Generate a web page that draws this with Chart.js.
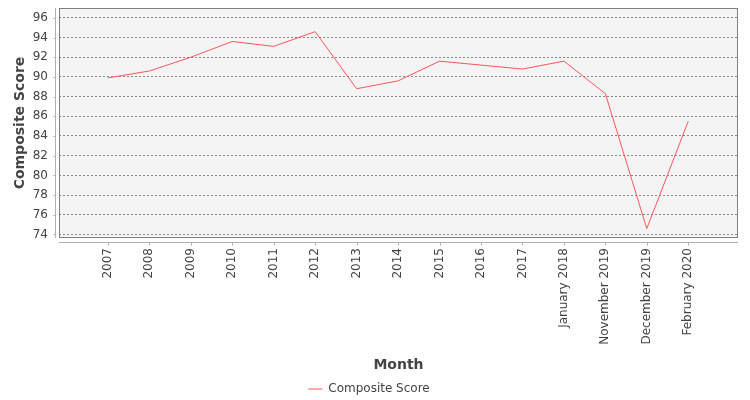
<!DOCTYPE html>
<html>
<head>
<meta charset="utf-8">
<script src="https://cdn.jsdelivr.net/npm/chart.js@4"></script>
<style>
    body { margin: 0; background: #ffffff; }
    #wrap { width: 750px; height: 400px; }
</style>
</head>
<body>
<div id="wrap"><canvas id="chart" width="750" height="400"></canvas></div>
<script>
const months = ['2007', '2008', '2009', '2010', '2011', '2012', '2013', '2014', '2015', '2016', '2017',
    'January 2018', 'November 2019', 'December 2019', 'February 2020'];
const scores = [89.9, 90.6, 92.0, 93.6, 93.1, 94.6, 88.8, 89.6, 91.6, 91.2, 90.8, 91.6, 88.3, 74.6, 85.5];
const yTicks = [74, 76, 78, 80, 82, 84, 86, 88, 90, 92, 94, 96];

const textColor = '#444444';
const fontFamily = '"DejaVu Sans", sans-serif';

// plot background, frame and the offset axis lines
const plotFrame = {
    id: 'plotFrame',
    beforeDraw(chart) {
        const { ctx, chartArea: a } = chart;
        ctx.save();
        ctx.fillStyle = '#ffffff';
        ctx.fillRect(0, 0, chart.width, chart.height);
        ctx.fillStyle = '#f4f4f4';
        ctx.fillRect(a.left, a.top, a.right - a.left, a.bottom - a.top);
        ctx.restore();
    },
    afterDraw(chart) {
        const { ctx, chartArea: a, scales } = chart;
        ctx.save();
        ctx.lineWidth = 1;
        ctx.strokeStyle = '#808080';
        ctx.strokeRect(a.left + 0.5, a.top + 0.5, a.right - a.left - 1, a.bottom - a.top - 1);

        ctx.strokeStyle = '#b0b0b0';
        ctx.beginPath();
        const ax = a.left - 4 + 0.5;
        ctx.moveTo(ax, a.top);
        ctx.lineTo(ax, a.bottom);
        scales.y.ticks.forEach((t) => {
            const py = Math.round(scales.y.getPixelForValue(t.value)) + 0.5;
            ctx.moveTo(ax, py);
            ctx.lineTo(ax - 2, py);
        });
        const ay = a.bottom + 4 + 0.5;
        ctx.moveTo(a.left, ay);
        ctx.lineTo(a.right, ay);
        scales.x.ticks.forEach((t) => {
            const px = Math.round(scales.x.getPixelForValue(t.value)) + 0.5;
            ctx.moveTo(px, ay);
            ctx.lineTo(px, ay + 3);
        });
        ctx.stroke();
        ctx.restore();
    }
};

const ctx = document.getElementById('chart').getContext('2d');
new Chart(ctx, {
    type: 'line',
    data: {
        datasets: [{
            label: 'Composite Score',
            data: months.map((m, i) => ({ x: i, y: scores[i] })),
            borderColor: '#ff5555',
            backgroundColor: '#ff5555',
            borderWidth: 1,
            pointRadius: 0,
            pointHoverRadius: 0,
            tension: 0,
            fill: false,
        }]
    },
    options: {
        responsive: false,
        animation: false,
        devicePixelRatio: 1,
        layout: { padding: { left: 0, right: 12, top: 8, bottom: 0 } },
        plugins: {
            tooltip: { enabled: false },
            legend: {
                position: 'bottom',
                maxHeight: 19,
                labels: {
                    usePointStyle: true,
                    pointStyle: 'line',
                    pointStyleWidth: 14,
                    padding: 2,
                    color: textColor,
                    font: { family: fontFamily, size: 12 },
                }
            }
        },
        scales: {
            x: {
                type: 'linear',
                min: -1.18,
                max: 15.2,
                afterBuildTicks: (scale) => {
                    scale.ticks = months.map((m, i) => ({ value: i }));
                },
                afterFit: (scale) => { scale.height = 143; },
                grid: { display: true, drawOnChartArea: false, drawTicks: true, tickLength: 8, tickColor: 'rgba(0,0,0,0)' },
                border: { display: false },
                ticks: {
                    autoSkip: false,
                    minRotation: 90,
                    maxRotation: 90,
                    padding: 2,
                    color: textColor,
                    font: { family: fontFamily, size: 12 },
                    callback: (v) => months[v],
                },
                title: {
                    display: true,
                    text: 'Month',
                    color: textColor,
                    font: { family: fontFamily, size: 14, weight: 'bold' },
                    padding: { top: 0, bottom: 7 },
                }
            },
            y: {
                min: 73.64,
                max: 97.0,
                afterBuildTicks: (scale) => {
                    scale.ticks = yTicks.map((v) => ({ value: v }));
                },
                afterFit: (scale) => { scale.width = 59; },
                grid: {
                    color: '#888888',
                    lineWidth: 1,
                    drawTicks: true,
                    tickLength: 11,
                    tickColor: 'rgba(0,0,0,0)',
                    tickBorderDash: [],
                },
                border: { display: false, dash: [2, 2] },
                ticks: {
                    padding: 0,
                    color: textColor,
                    font: { family: fontFamily, size: 12 },
                    callback: (v) => v,
                },
                title: {
                    display: true,
                    text: 'Composite Score',
                    color: textColor,
                    font: { family: fontFamily, size: 14, weight: 'bold' },
                    padding: { top: 12, bottom: 0 },
                }
            }
        }
    },
    plugins: [plotFrame]
});
</script>
</body>
</html>
